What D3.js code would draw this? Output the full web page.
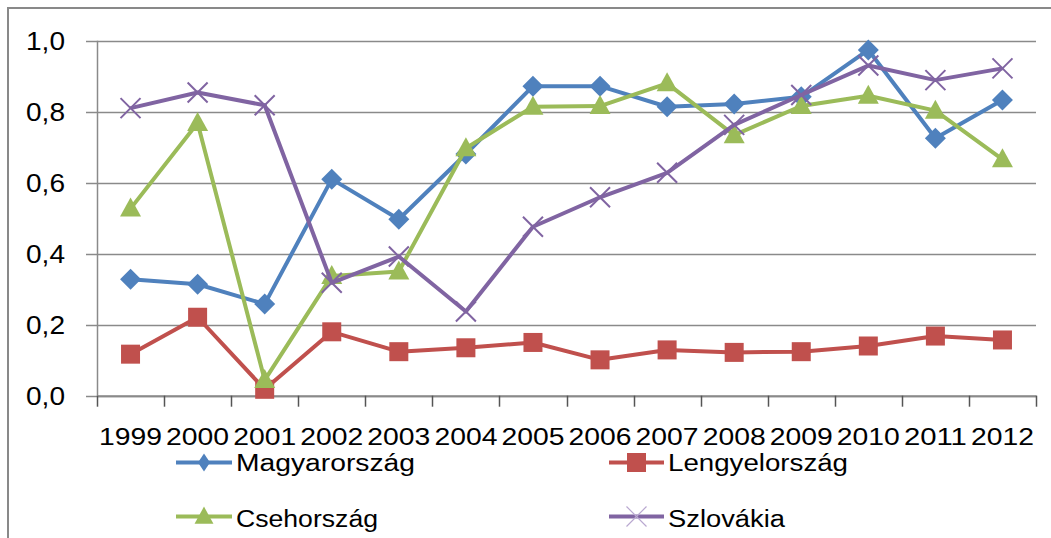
<!DOCTYPE html>
<html>
<head>
<meta charset="utf-8">
<script src="https://cdn.jsdelivr.net/npm/d3@7"></script>
<style>
  html, body { margin: 0; padding: 0; background: #fff; }
  svg { display: block; }
  text { font-family: "Liberation Sans", Arial, sans-serif; fill: #000; }
</style>
</head>
<body>
<svg id="chart" width="1051" height="538"></svg>
<script>
const years = ["1999","2000","2001","2002","2003","2004","2005","2006","2007","2008","2009","2010","2011","2012"];
const yTicks = [0, 0.2, 0.4, 0.6, 0.8, 1.0];

const magyarorszag   = [0.328, 0.314, 0.258, 0.610, 0.497, 0.681, 0.872, 0.872, 0.814, 0.822, 0.842, 0.974, 0.725, 0.833];
const lengyelorszag  = [0.117, 0.221, 0.018, 0.180, 0.124, 0.135, 0.150, 0.101, 0.129, 0.122, 0.124, 0.140, 0.168, 0.157];
const csehorszag     = [0.527, 0.768, 0.044, 0.337, 0.350, 0.697, 0.814, 0.816, 0.880, 0.734, 0.816, 0.845, 0.803, 0.666];
const szlovakia      = [0.810, 0.854, 0.818, 0.318, 0.392, 0.237, 0.476, 0.559, 0.628, 0.763, 0.847, 0.930, 0.889, 0.922];

const seriesNames  = ["Magyarország", "Lengyelország", "Csehország", "Szlovákia"];
const seriesColors = ["#4F81BD", "#C0504D", "#9BBB59", "#8064A2"];
const seriesMarkers = ["diamond", "square", "triangle", "x"];
const seriesValues = [magyarorszag, lengyelorszag, csehorszag, szlovakia];

const svg = d3.select("#chart");

// outer frame (cropped at right/bottom)
svg.append("rect").attr("x", 8).attr("y", 8).attr("width", 1100).attr("height", 600)
  .attr("fill", "none").attr("stroke", "#898989").attr("stroke-width", 2);

const x = d3.scaleBand().domain(years).range([97, 1036]).padding(0);
const y = d3.scaleLinear().domain([0, 1]).range([395.7, 40.7]);

const fmt = v => d3.format(".1f")(v).replace(".", ",");

// gridlines
svg.append("g").selectAll("line").data(yTicks).join("line")
  .attr("x1", 86).attr("x2", 1036)
  .attr("y1", d => Math.round(y(d)) + 0.5).attr("y2", d => Math.round(y(d)) + 0.5)
  .attr("stroke", "#8a8a8a").attr("stroke-width", 1.3);

// y axis line
svg.append("line").attr("x1", 97.5).attr("x2", 97.5).attr("y1", y(1)).attr("y2", y(0))
  .attr("stroke", "#8a8a8a").attr("stroke-width", 1.5);

// y labels
svg.append("g").selectAll("text").data(yTicks).join("text")
  .attr("x", 65).attr("y", d => y(d) + 9.5)
  .attr("text-anchor", "end")
  .attr("font-size", 26)
  .attr("textLength", 39).attr("lengthAdjust", "spacingAndGlyphs")
  .text(fmt);

// x axis
const xAxis = d3.axisBottom(x).tickSize(0).tickPadding(0);
const gx = svg.append("g").attr("transform", `translate(0,${y(0)})`).call(xAxis);
gx.select(".domain").attr("stroke", "#8a8a8a").attr("stroke-width", 2);
gx.selectAll(".tick text")
  .attr("y", 49)
  .attr("dy", 0)
  .attr("font-size", 24.5)
  .attr("font-family", "Liberation Sans, Arial, sans-serif")
  .attr("fill", "#000")
  .attr("textLength", 63).attr("lengthAdjust", "spacingAndGlyphs");

// category boundary ticks
const bounds = years.map(d => x(d)).concat([x.range()[1]]);
svg.append("g").selectAll("line").data(bounds).join("line")
  .attr("x1", d => Math.round(d) + 0.5).attr("x2", d => Math.round(d) + 0.5)
  .attr("y1", y(0)).attr("y2", y(0) + 11)
  .attr("stroke", "#555").attr("stroke-width", 1.5);

// marker drawer
function marker(g, type, cx, cy, color, s) {
  if (type === "diamond") {
    const h = 10.5 * s;
    g.append("path").attr("d", `M${cx},${cy - h}L${cx + h},${cy}L${cx},${cy + h}L${cx - h},${cy}Z`).attr("fill", color);
  } else if (type === "square") {
    const h = 9.5 * s;
    g.append("rect").attr("x", cx - h).attr("y", cy - h).attr("width", 2 * h).attr("height", 2 * h).attr("fill", color);
  } else if (type === "triangle") {
    const w = 10.5 * s;
    g.append("path").attr("d", `M${cx},${cy - 11 * s}L${cx + w},${cy + 8 * s}L${cx - w},${cy + 8 * s}Z`).attr("fill", color);
  } else if (type === "x") {
    const h = 10 * s;
    g.append("path").attr("d", `M${cx - h},${cy - h}L${cx + h},${cy + h}M${cx - h},${cy + h}L${cx + h},${cy - h}`)
      .attr("stroke", color).attr("stroke-width", 2).attr("fill", "none");
  }
}

const line = d3.line().x((d, i) => x(years[i]) + x.bandwidth() / 2).y(d => y(d));

seriesValues.forEach((vals, si) => {
  const g = svg.append("g");
  g.append("path").datum(vals).attr("d", line)
    .attr("fill", "none").attr("stroke", seriesColors[si]).attr("stroke-width", 4)
    .attr("stroke-linejoin", "round");
  vals.forEach((v, i) => marker(g, seriesMarkers[si], x(years[i]) + x.bandwidth() / 2, y(v), seriesColors[si], 1));
});

// legend
const legendItems = [
  { x1: 176, x2: 232, ly: 462.5, tx: 236, ty: 471, tl: 179 },
  { x1: 609, x2: 664, ly: 462.5, tx: 668, ty: 471, tl: 180 },
  { x1: 176, x2: 232, ly: 516.5, tx: 236, ty: 526.5, tl: 142 },
  { x1: 609, x2: 664, ly: 516.5, tx: 668, ty: 526.5, tl: 117 }
];
legendItems.forEach((L, si) => {
  const g = svg.append("g");
  g.append("line").attr("x1", L.x1).attr("x2", L.x2).attr("y1", L.ly).attr("y2", L.ly)
    .attr("stroke", seriesColors[si]).attr("stroke-width", 4);
  const cx = (L.x1 + L.x2) / 2;
  if (seriesMarkers[si] === "diamond") {
    g.append("path").attr("d", `M${cx},${L.ly - 9}L${cx + 6},${L.ly}L${cx},${L.ly + 9}L${cx - 6},${L.ly}Z`).attr("fill", seriesColors[si]);
  } else if (seriesMarkers[si] === "x") {
    g.append("path").attr("d", `M${cx - 10},${L.ly - 10}L${cx + 10},${L.ly + 10}M${cx - 10},${L.ly + 10}L${cx + 10},${L.ly - 10}`)
      .attr("stroke", "#B9A8D0").attr("stroke-width", 1.2).attr("fill", "none");
  } else {
    marker(g, seriesMarkers[si], cx, L.ly, seriesColors[si], si === 1 ? 1 : 0.9);
  }
  g.append("text").attr("x", L.tx).attr("y", L.ty).attr("font-size", 23.5)
    .attr("textLength", L.tl).attr("lengthAdjust", "spacingAndGlyphs")
    .text(seriesNames[si]);
});
</script>
</body>
</html>
